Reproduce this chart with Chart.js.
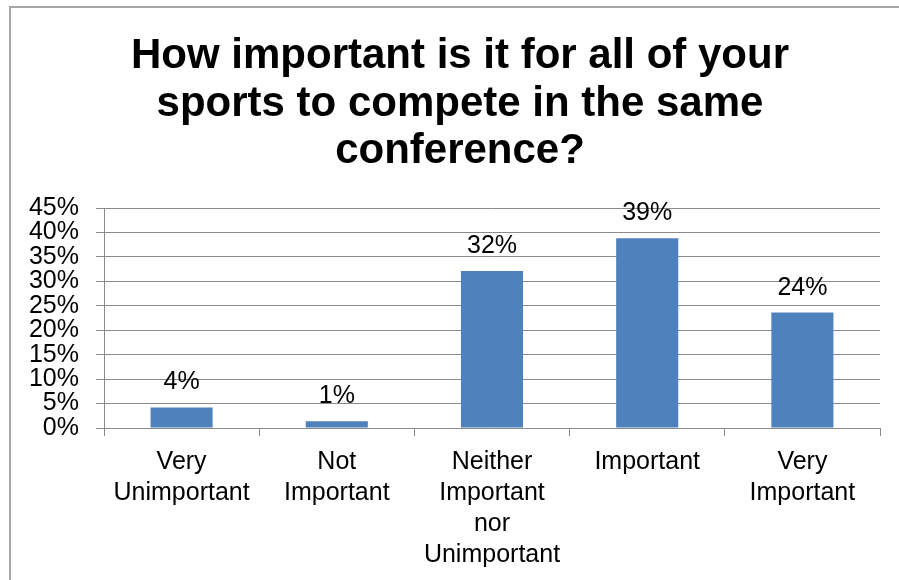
<!DOCTYPE html>
<html>
<head>
<meta charset="utf-8">
<title>Same conference survey</title>
<script src="https://cdn.jsdelivr.net/npm/chart.js@4"></script>
<style>
body { margin: 0; background: #fff; }
#wrap { position: relative; width: 899px; height: 580px; overflow: hidden; }
#frame { position: absolute; left: 9px; top: 6px; width: 1000px; height: 1000px; border: 2px solid #a6a6a6; pointer-events: none; }
canvas { position: absolute; left: 0; top: 0; }
</style>
</head>
<body>
<div id="wrap">
<div id="frame"></div>
<canvas id="surveyChart" width="899" height="580"></canvas>
</div>
<script>

let titleLines = ["How important is it for all of your", "sports to compete in the same", "conference?"]

let answers = [
["Very", "Unimportant"],
["Not", "Important"],
["Neither", "Important", "nor", "Unimportant"],
["Important"],
["Very", "Important"]
]

let shares = [4.2, 1.4, 32.1, 38.8, 23.6]

let yTicks = [0, 5, 10, 15, 20, 25, 30, 35, 40, 45]

let fontName = "'Liberation Sans', Arial, Helvetica, sans-serif"
let gridGrey = "#8a8a8a"


// percent labels above each bar
let barLabels = {
id: "barLabels",
afterDatasetsDraw(chart){
let ctx = chart.ctx
let meta = chart.getDatasetMeta(0)
ctx.save()
ctx.font = "25px " + fontName
ctx.fillStyle = "#000"
ctx.textAlign = "center"
ctx.textBaseline = "alphabetic"
meta.data.forEach((bar,i)=>{
ctx.fillText(Math.round(shares[i]) + "%", bar.x, bar.y - 18)
})
ctx.restore()
}
}

// title block, centred on the whole frame rather than the plot
let bigTitle = {
id: "bigTitle",
afterDraw(chart){
let ctx = chart.ctx
ctx.save()
ctx.font = "bold 42px " + fontName
ctx.fillStyle = "#000"
ctx.textAlign = "center"
ctx.textBaseline = "alphabetic"
titleLines.forEach((line,i)=>{
ctx.fillText(line, 460, 68 + i * 47.5)
})
ctx.restore()
}
}


new Chart(document.getElementById("surveyChart"),{

type:"bar",

data:{
labels:answers,
datasets:[{
data:shares,
backgroundColor:"#4f81bd",
borderWidth:0,
barPercentage:0.4,
categoryPercentage:1
}]
},

options:{
responsive:false,
animation:false,
devicePixelRatio:1,
layout:{ padding:{ left:0, right:19, top:208, bottom:0 } },
plugins:{
legend:{ display:false },
tooltip:{ enabled:false },
title:{ display:false }
},
scales:{
x:{
grid:{ display:true, drawOnChartArea:false, offset:true, color:gridGrey, tickLength:8 },
border:{ color:gridGrey },
ticks:{ color:"#000", padding:11, maxRotation:0, autoSkip:false, font:{ family:fontName, size:25, lineHeight:1.24 } },
afterFit(scale){ scale.height = 152 }
},
y:{
min:0,
max:45,
afterBuildTicks(scale){ scale.ticks = yTicks.map(v=>({ value:v })) },
grid:{ color:gridGrey, tickLength:8 },
border:{ color:gridGrey },
ticks:{ color:"#000", padding:17, autoSkip:false, font:{ family:fontName, size:25 }, callback:(v)=>v + "%" },
afterFit(scale){ scale.width = 104 }
}
}
},

plugins:[barLabels, bigTitle]

})

</script>
</body>
</html>
